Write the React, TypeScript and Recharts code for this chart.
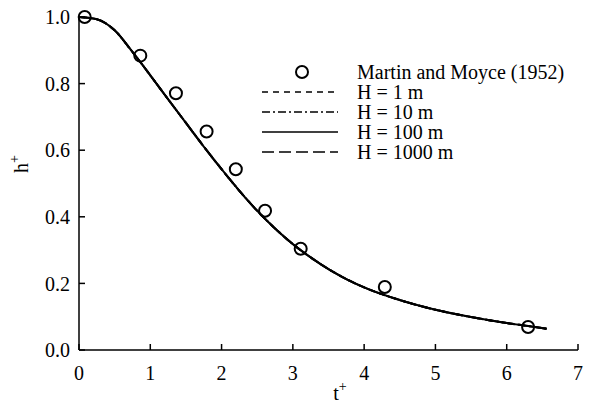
import React from "react";
import {
  ComposedChart,
  Line,
  Scatter,
  XAxis,
  YAxis,
  Legend,
  Label,
} from "recharts";

// observed points, Martin and Moyce (1952)
const obsT = [0.08, 0.86, 1.36, 1.79, 2.2, 2.61, 3.11, 4.29, 6.3];
const obsH = [1.0, 0.884, 0.771, 0.656, 0.543, 0.418, 0.304, 0.189, 0.069];

// computed curve (all four heights fall on the same line)
const curveT = [0, 0.25, 0.5, 0.75, 1.0, 1.25, 1.5, 1.75, 2.0, 2.25, 2.5, 2.75, 3.0, 3.25, 3.5, 3.75, 4.0, 4.5, 5.0, 5.5, 6.0, 6.3, 6.56];
const curveH = [1.0, 0.993, 0.96, 0.895, 0.825, 0.753, 0.682, 0.611, 0.543, 0.478, 0.418, 0.365, 0.318, 0.278, 0.243, 0.213, 0.188, 0.15, 0.121, 0.099, 0.081, 0.072, 0.064];

const xTicks = [0, 1, 2, 3, 4, 5, 6, 7];
const yTicks = [0, 0.2, 0.4, 0.6, 0.8, 1.0];

const obsName = "Martin and Moyce (1952)";
const lineNames = ["H = 1 m", "H = 10 m", "H = 100 m", "H = 1000 m"];
const lineDash = ["6 5", "8 3 2 3", "", "12 5"];

const FONT = '"Liberation Serif", "Times New Roman", serif';

const obsData = obsT.map((t, i) => ({ t, h: obsH[i] }));
const curveData = curveT.map((t, i) => ({ t, h: curveH[i] }));

const OpenCircle = (props: any) => {
  const { cx, cy } = props;
  return <circle cx={cx} cy={cy} r={6} fill="none" stroke="#000" strokeWidth={2} />;
};

const LegendBox = () => (
  <div style={{ fontFamily: FONT, fontSize: 20, color: "#000", lineHeight: "20px" }}>
    <div style={{ display: "flex", alignItems: "center", height: 20 }}>
      <svg width={102} height={20}>
        <circle cx={47} cy={10} r={6} fill="none" stroke="#000" strokeWidth={2} />
      </svg>
      <span>{obsName}</span>
    </div>
    {lineNames.map((n, i) => (
      <div key={n} style={{ display: "flex", alignItems: "center", height: 20 }}>
        <svg width={102} height={20}>
          <line x1={7} x2={83} y1={10} y2={10} stroke="#000" strokeWidth={1.6} strokeDasharray={lineDash[i]} />
        </svg>
        <span>{n}</span>
      </div>
    ))}
  </div>
);

const XTitle = (props: any) => {
  const vb = props.viewBox;
  return (
    <text x={vb.x + 261} y={400} fontFamily={FONT} fontSize={20} fill="#000" textAnchor="middle">
      t<tspan dy={-9} fontSize={14}>+</tspan>
    </text>
  );
};

const YTitle = (props: any) => {
  const vb = props.viewBox;
  const cx = 28;
  const cy = vb.y + 147;
  return (
    <text x={cx} y={cy} transform={`rotate(-90 ${cx} ${cy})`} fontFamily={FONT} fontSize={20} fill="#000" textAnchor="middle">
      h<tspan dy={-9} fontSize={14}>+</tspan>
    </text>
  );
};

export default function App() {
  const tickStyle = { fill: "#000", fontSize: 20, fontFamily: FONT };
  return (
    <div style={{ position: "absolute", left: 0, top: 0 }}>
      <ComposedChart width={589} height={403} margin={{ top: 17, right: 11, left: 0, bottom: 23 }}>
        <XAxis
          type="number"
          dataKey="t"
          domain={[0, 7]}
          ticks={xTicks}
          height={30}
          stroke="#000"
          strokeWidth={1.5}
          tickSize={-6}
          tickMargin={22}
          tick={tickStyle}
        >
          <Label content={<XTitle />} />
        </XAxis>
        <YAxis
          type="number"
          dataKey="h"
          domain={[0, 1]}
          ticks={yTicks}
          width={79}
          stroke="#000"
          strokeWidth={1.5}
          tickSize={-6}
          tickMargin={15}
          tick={tickStyle}
          tickFormatter={(v: number) => v.toFixed(1)}
        >
          <Label content={<YTitle />} />
        </YAxis>
        {lineNames.map((n, i) => (
          <Line
            key={n}
            name={n}
            data={curveData}
            dataKey="h"
            type="monotone"
            stroke="#000"
            strokeWidth={2}
            strokeDasharray={lineDash[i]}
            dot={false}
            activeDot={false}
            isAnimationActive={false}
          />
        ))}
        <Scatter name={obsName} data={obsData} dataKey="h" shape={<OpenCircle />} isAnimationActive={false} />
        <Legend
          content={<LegendBox />}
          layout="vertical"
          verticalAlign="middle"
          align="center"
          wrapperStyle={{ left: 255, top: 62, width: 330 }}
        />
      </ComposedChart>
    </div>
  );
}
